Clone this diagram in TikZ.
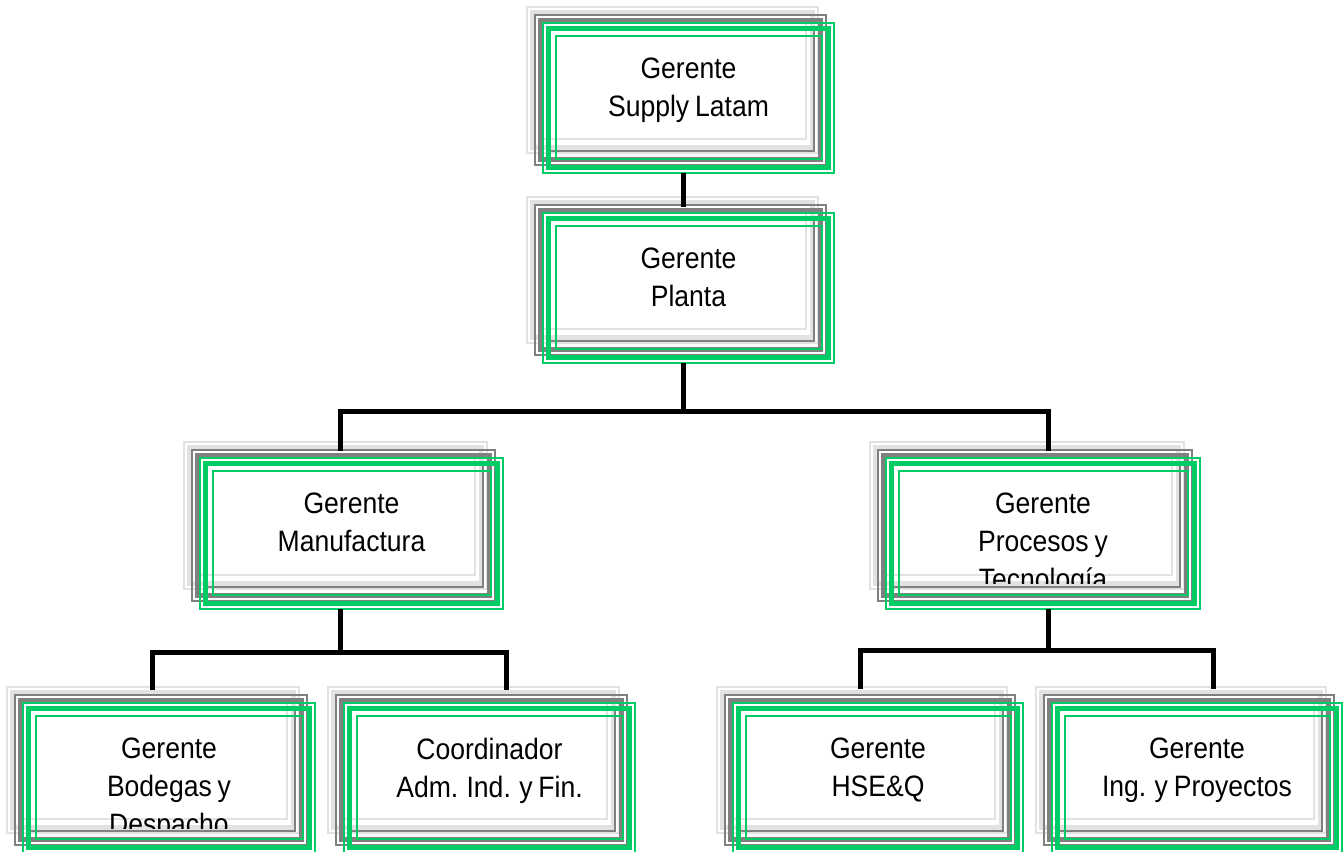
\documentclass[tikz,border=0pt]{standalone}
\usepackage{fontspec}
\setmainfont{Liberation Sans}
\newfontfamily\boxfont[FakeStretch=0.9,WordSpace=0.8]{Liberation Sans}

\definecolor{frameGreen}{RGB}{0,204,102}
\definecolor{frameDark}{RGB}{128,128,128}
\definecolor{frameLight}{RGB}{226,226,226}

% thin / thick / thin rectangle frame: colour, left, top, width, height
\newcommand\tripleframe[5]{%
  \draw[#1, line width=1.8] ({#2},{-(#3)}) rectangle ({#2+#4},{-(#3)-(#5)});
  \draw[#1, line width=4.8] ({#2+5.5},{-(#3)-5.5}) rectangle ({#2+#4-5.5},{-(#3)-(#5)+5.5});
  \draw[#1, line width=1.8] ({#2+13},{-(#3)-13}) rectangle ({#2+#4-12},{-(#3)-(#5)+14});
}

% org-chart box with two shadow frames: name, left, top, width, height, text
\newcommand\orgbox[6]{%
  \tripleframe{frameLight}{#2-16}{#3-16}{#4}{#5-4}
  \tripleframe{frameDark}{#2-8}{#3-8}{#4}{#5}
  \tripleframe{frameGreen}{#2}{#3}{#4}{#5}
  \begin{scope}
    \clip ({#2},{-(#3)-13}) rectangle ({#2+#4},{-(#3)-125});
    \node[lbl] (#1) at ({#2+(#4)/2},{-(#3)-34.5}) {#6};
  \end{scope}
}

\begin{document}
\begin{tikzpicture}[x=1pt,y=1pt,
  lbl/.style={font=\boxfont\fontsize{29.5}{38}\selectfont, align=center,
              anchor=north, inner sep=0pt},
  conn/.style={line width=5pt, black}]

\useasboundingbox (0,0) rectangle (1343,-851);
\fill[white] (0,0) rectangle (1343,-851);

\orgbox{sup}{543}{23}{291}{150}{Gerente\\Supply Latam}
\orgbox{pla}{543}{213}{291}{150}{Gerente\\Planta}
\orgbox{man}{200}{458}{303}{151}{Gerente\\Manufactura}
\orgbox{pro}{886}{458}{314}{151}{Gerente\\Procesos y\\Tecnología}
\orgbox{bod}{23}{703}{292}{150}{Gerente\\Bodegas y\\Despacho}
\orgbox{coo}{344}{703}{291}{150}{Coordinador\\Adm. Ind. y Fin.}
\orgbox{hse}{733}{703}{290}{150}{Gerente\\HSE\&Q}
\orgbox{ing}{1052}{703}{290}{150}{Gerente\\Ing. y Proyectos}

% connector end points on each box
\coordinate (sup-s) at (683,-173);
\coordinate (pla-n) at (683,-207);
\coordinate (pla-s) at (683,-363);
\coordinate (man-n) at (340,-451);
\coordinate (pro-n) at (1048,-451);
\coordinate (man-s) at (340,-609);
\coordinate (pro-s) at (1048,-609);
\coordinate (bod-n) at (152,-690);
\coordinate (coo-n) at (506,-690);
\coordinate (hse-n) at (860,-689);
\coordinate (ing-n) at (1213,-689);
% junction levels
\coordinate (j1) at (683,-411);
\coordinate (j2) at (340,-652);
\coordinate (j3) at (1048,-650);

\draw[conn] (sup-s) -- (pla-n);
\draw[conn] (pla-s) -- (j1);
\draw[conn] (man-n) -- (man-n |- j1) -- (pro-n |- j1) -- (pro-n);
\draw[conn] (man-s) -- (j2);
\draw[conn] (bod-n) -- (bod-n |- j2) -- (coo-n |- j2) -- (coo-n);
\draw[conn] (pro-s) -- (j3);
\draw[conn] (hse-n) -- (hse-n |- j3) -- (ing-n |- j3) -- (ing-n);
\end{tikzpicture}
\end{document}
